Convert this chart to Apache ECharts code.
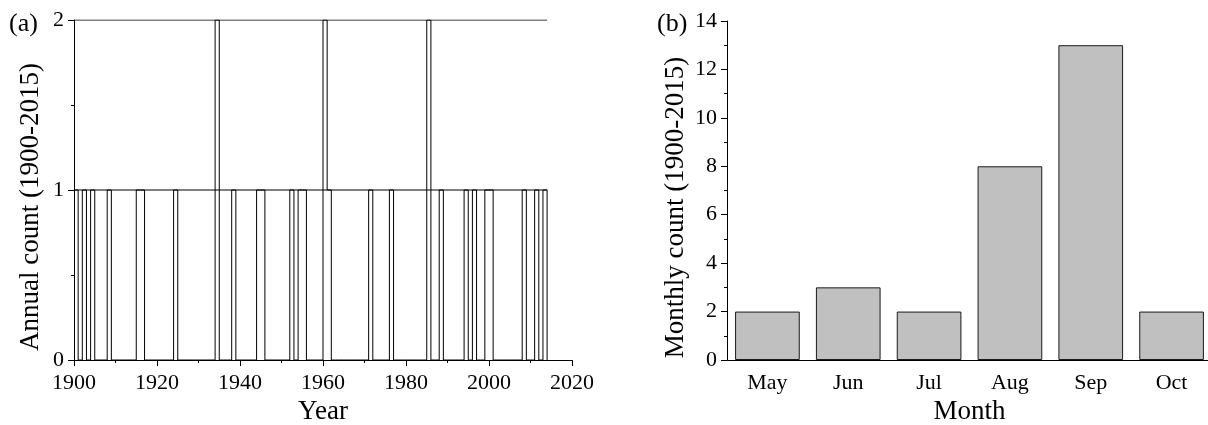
<!DOCTYPE html>
<html>
<head>
<meta charset="utf-8">
<script src="https://cdn.jsdelivr.net/npm/echarts@6/dist/echarts.min.js"></script>
<style>
    html, body { margin: 0; padding: 0; background: #fff; }
    #chart { width: 1208px; height: 425px; }
</style>
</head>
<body>
<div id="chart"></div>
<script>
// (a) years with events and how many in each
const eventYears = [1900, 1902, 1904, 1908, 1915, 1916, 1924, 1934, 1938, 1944, 1945, 1952, 1954, 1955,
    1960, 1961, 1971, 1976, 1985, 1988, 1994, 1996, 1999, 2000, 2008, 2011, 2013]
const eventCounts = [1, 1, 1, 1, 1, 1, 1, 2, 1, 1, 1, 1, 1, 1,
    2, 1, 1, 1, 2, 1, 1, 1, 1, 1, 1, 1, 1]
const firstYear = 1900
const lastYear = 2014
const levelLines = [1, 2]
const yearTicks = [1900, 1920, 1940, 1960, 1980, 2000, 2020]

// (b) monthly counts
const months = ["May", "Jun", "Jul", "Aug", "Sep", "Oct"]
const monthlyCounts = [2, 3, 2, 8, 13, 2]

const FONT = "Liberation Serif"

// one point per year, zero where nothing happened
const annual = []
for (let y = firstYear; y <= lastYear; y++) {
    const i = eventYears.indexOf(y)
    annual.push([y, i >= 0 ? eventCounts[i] : 0])
}

const levelSeries = levelLines.map((lv) => ({
    type: "line",
    xAxisIndex: 0,
    yAxisIndex: 0,
    data: [[firstYear, lv], [lastYear, lv]],
    showSymbol: false,
    silent: true,
    lineStyle: { color: "#000", width: 1 },
}))

const axisText = { color: "#000", fontFamily: FONT, fontSize: 22 }
const nameText = { color: "#000", fontFamily: FONT, fontSize: 27 }
// y titles sit a little below the middle of the axis in the original
const yNameText = { ...nameText, padding: [0, 34, 0, 0] }
const blackLine = { lineStyle: { color: "#000", width: 1 } }

const option = {
    animation: false,
    title: [
        { text: "(a)", left: 4, top: 6, textStyle: { ...nameText, fontWeight: "normal", fontSize: 26 } },
        { text: "(b)", left: 652, top: 6, textStyle: { ...nameText, fontWeight: "normal", fontSize: 26 } },
    ],
    grid: [
        { left: 74, right: 636, top: 20, bottom: 65, outerBoundsMode: "none" },
        { left: 727, right: -4, top: 21, bottom: 65, outerBoundsMode: "none" },
    ],
    xAxis: [
        {
            gridIndex: 0,
            type: "value",
            min: yearTicks[0],
            max: yearTicks[yearTicks.length - 1],
            interval: 20,
            name: "Year",
            nameLocation: "middle",
            nameGap: 37,
            nameTextStyle: nameText,
            axisLine: blackLine,
            axisTick: { length: 6, ...blackLine },
            minorTick: { show: true, splitNumber: 2, length: 3, ...blackLine },
            axisLabel: { ...axisText, margin: 12, formatter: (v) => String(v) },
            splitLine: { show: false },
        },
        {
            gridIndex: 1,
            type: "category",
            data: months,
            name: "Month",
            nameLocation: "middle",
            nameGap: 37,
            nameTextStyle: nameText,
            axisLine: blackLine,
            axisTick: { alignWithLabel: true, length: 6, ...blackLine },
            axisLabel: { ...axisText, margin: 12 },
            splitLine: { show: false },
        },
        {
            // short ticks on the category boundaries
            gridIndex: 1,
            type: "category",
            data: months,
            position: "bottom",
            axisLine: { show: false },
            axisTick: { length: 3, ...blackLine },
            axisLabel: { show: false },
            splitLine: { show: false },
        },
    ],
    yAxis: [
        {
            gridIndex: 0,
            type: "value",
            min: 0,
            max: 2,
            interval: 1,
            name: "Annual count (1900-2015)",
            nameLocation: "middle",
            nameGap: 30,
            nameTextStyle: yNameText,
            axisLine: { show: true, ...blackLine },
            axisTick: { show: true, length: 6, ...blackLine },
            minorTick: { show: true, splitNumber: 2, length: 3, ...blackLine },
            axisLabel: { ...axisText, margin: 10 },
            splitLine: { show: false },
        },
        {
            gridIndex: 1,
            type: "value",
            min: 0,
            max: 14,
            interval: 2,
            name: "Monthly count (1900-2015)",
            nameLocation: "middle",
            nameGap: 38,
            nameTextStyle: yNameText,
            axisLine: { show: true, ...blackLine },
            axisTick: { show: true, length: 6, ...blackLine },
            minorTick: { show: true, splitNumber: 2, length: 3, ...blackLine },
            axisLabel: { ...axisText, margin: 10 },
            splitLine: { show: false },
        },
    ],
    series: [
        ...levelSeries,
        {
            type: "line",
            xAxisIndex: 0,
            yAxisIndex: 0,
            step: "end",
            data: annual,
            showSymbol: false,
            lineStyle: { color: "#000", width: 1 },
        },
        {
            type: "bar",
            xAxisIndex: 1,
            yAxisIndex: 1,
            data: monthlyCounts,
            barWidth: "80%",
            itemStyle: { color: "#c0c0c0", borderColor: "#1a1a1a", borderWidth: 1 },
        },
    ],
}

const chart = echarts.init(document.getElementById("chart"))
chart.setOption(option)
</script>
</body>
</html>
